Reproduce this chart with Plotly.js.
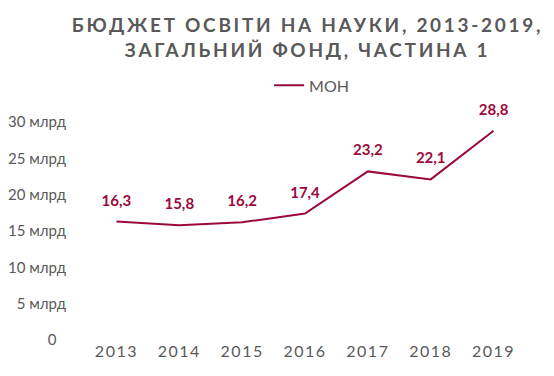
<!DOCTYPE html>
<html>
<head>
<meta charset="utf-8">
<script src="https://cdn.plot.ly/plotly-3.0.1.min.js"></script>
<style>
html,body{margin:0;padding:0;background:#fff;}
#chart{width:554px;height:376px;}
.gtitle{letter-spacing:2.7px;}
.xtick text{letter-spacing:1.5px;}
</style>
</head>
<body>
<div id="chart"></div>
<script>
const years = ['2013','2014','2015','2016','2017','2018','2019'];
const mon = [16.3, 15.8, 16.2, 17.4, 23.2, 22.1, 28.8];
const seriesName = 'МОН';
const yTickVals = [0, 5, 10, 15, 20, 25, 30];
const yTickText = ['0\u2007\u200A', '5 млрд', '10 млрд', '15 млрд', '20 млрд', '25 млрд', '30 млрд'];

const labels = mon.map(v => v.toFixed(1).replace('.', ','));
const red = '#9b0a3c';
const grey = '#595959';
const font = 'Lato, "Open Sans", sans-serif';

Plotly.newPlot('chart', [{
  x: years, y: mon, name: seriesName, type: 'scatter', mode: 'lines+markers+text',
  line: {color: red, width: 2},
  marker: {size: 18, color: 'rgba(0,0,0,0)', line: {width: 0}},
  text: labels.map(t => '<b>' + t + '</b>'), textposition: 'top center',
  textfont: {family: font, size: 15, color: red},
  cliponaxis: false
}], {
  width: 554, height: 376,
  margin: {l: 85, r: 29, t: 122, b: 36},
  paper_bgcolor: '#fff', plot_bgcolor: '#fff',
  title: {text: 'БЮДЖЕТ ОСВІТИ НА НАУКИ, 2013-2019,<br>ЗАГАЛЬНИЙ ФОНД, ЧАСТИНА 1',
    font: {family: font, size: 19, color: grey, weight: 'bold'},
    x: 0.555, xanchor: 'center', y: 0.915, yanchor: 'middle'},
  showlegend: true,
  legend: {orientation: 'h', x: 0.515, xanchor: 'center', y: 1.09, yanchor: 'bottom',
    font: {family: font, size: 16, color: grey}},
  xaxis: {type: 'category', range: [-0.5, 6.5], showgrid: false, zeroline: false, showline: false,
    ticks: '', tickfont: {family: font, size: 16, color: grey}},
  yaxis: {range: [0, 30], showgrid: false, zeroline: false, showline: false,
    tickvals: yTickVals, ticktext: yTickText, ticks: '', ticklabelstandoff: 18,
    tickfont: {family: font, size: 15, color: grey}}
}, {displayModeBar: false, staticPlot: true});
</script>
</body>
</html>
